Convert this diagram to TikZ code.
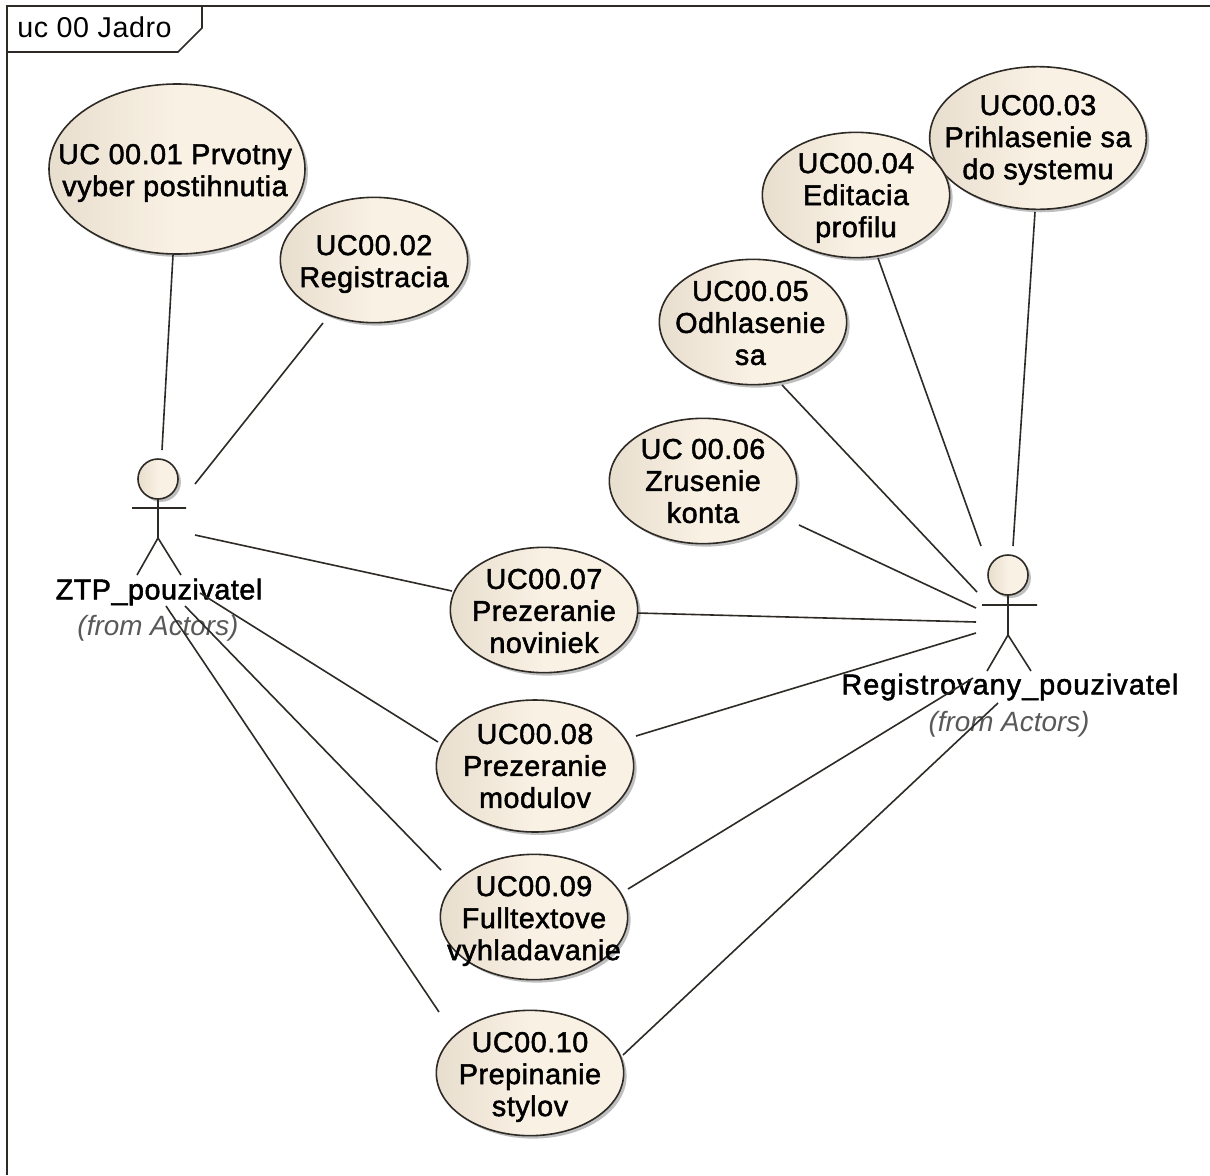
\documentclass[tikz,border=0pt]{standalone}
\usepackage{fontspec}
\setmainfont{Liberation Sans}
\newfontfamily\ucfont[FakeBold=1.8,LetterSpace=2]{Liberation Sans}
\newfontfamily\widefont[FakeBold=1.8,LetterSpace=3.9]{Liberation Sans}
\newfontfamily\plainfont[LetterSpace=2]{Liberation Sans}
\usetikzlibrary{shapes.geometric,shadows}
\definecolor{ucedge}{HTML}{2E2A26}
\definecolor{ucleft}{HTML}{E8DECE}
\definecolor{ucmid}{HTML}{F9F1E4}
\tikzset{
  x=0.75pt,y=-0.75pt,
  usecase/.style={ellipse,draw=ucedge,line width=1.2pt,inner sep=0pt,outer sep=0pt,
    left color=ucleft,right color=ucmid,middle color=ucmid,
    drop shadow={shadow xshift=2.2pt,shadow yshift=-2.2pt,fill=black!45,opacity=.55}},
  small/.style={usecase,minimum width=140.5pt,minimum height=94pt},
  uctext/.style={align=center,inner sep=0pt,yshift=-1.5pt,font=\ucfont\fontsize{21.5}{24}\selectfont,text=black},
  assoc/.style={draw=ucedge,line width=1.2pt},
  limb/.style={draw=ucedge,line width=1.2pt},
  head/.style={circle,draw=ucedge,line width=1.2pt,inner sep=0pt,outer sep=0pt,minimum size=30pt,
    left color=ucleft,right color=ucmid,middle color=ucmid,
    drop shadow={shadow xshift=2.2pt,shadow yshift=-2.2pt,fill=black!45,opacity=.55}},
  actorname/.style={font=\ucfont\fontsize{21.5}{24}\selectfont,inner sep=0pt,text=black},
  widename/.style={font=\widefont\fontsize{21.5}{24}\selectfont,inner sep=0pt,text=black},
  fromlabel/.style={font=\itshape\fontsize{20.9}{24}\selectfont,inner sep=0pt,text=black!65},
  frameline/.style={draw=ucedge,line width=1.2pt},
  framelabel/.style={font=\plainfont\fontsize{21.5}{24}\selectfont,inner sep=0pt,text=black,anchor=base west},
}
\begin{document}
\begin{tikzpicture}
\useasboundingbox[fill=white] (0,0) rectangle (1210,1175);
% frame
\draw[frameline] (7,1175) -- (7,6) -- (1210,6);
\draw[frameline] (7,52) -- (178,52) -- (202,28) -- (202,6);
\node[framelabel] (title) at (17,37) {uc 00 Jadro};
% use cases
\node[usecase,minimum width=192pt,minimum height=127.5pt] (u01) at (177,169) {};
\node[uctext,yshift=-1.5pt,xshift=-1.5pt] (t01) at (u01) {UC 00.01 Prvotny\\vyber postihnutia};
\node[small] (u02) at (374,260) {};
\node[uctext,yshift=-1.5pt] (t02) at (u02) {UC00.02\\Registracia};
\node[usecase,minimum width=162.5pt,minimum height=107pt] (u03) at (1038,138) {};
\node[uctext] (t03) at (u03) {UC00.03\\Prihlasenie sa\\do systemu};
\node[small] (u04) at (856,195) {};
\node[uctext,yshift=-.75pt] (t04) at (u04) {UC00.04\\Editacia\\profilu};
\node[small] (u05) at (753,322) {};
\node[uctext,yshift=.75pt,xshift=-2pt] (t05) at (u05) {UC00.05\\Odhlasenie\\sa};
\node[small] (u06) at (703,481) {};
\node[uctext,yshift=1.5pt] (t06) at (u06) {UC 00.06\\Zrusenie\\konta};
\node[small] (u07) at (544,610) {};
\node[uctext,yshift=.75pt] (t07) at (u07) {UC00.07\\Prezeranie\\noviniek};
\node[usecase,minimum width=148pt,minimum height=99pt] (u08) at (535,766) {};
\node[uctext,yshift=1.5pt] (t08) at (u08) {UC00.08\\Prezeranie\\modulov};
\node[small] (u09) at (534,917) {};
\node[uctext,yshift=-1.5pt] (t09) at (u09) {UC00.09\\Fulltextove\\vyhladavanie};
\node[small] (u10) at (530,1073) {};
\node[uctext,yshift=-1.5pt] (t10) at (u10) {UC00.10\\Prepinanie\\stylov};
% left actor
\node[head] (lh) at (158,479) {};
\coordinate (lhip) at (158,538);
\coordinate (lal) at (132,508);
\coordinate (lar) at (186,508);
\coordinate (lfl) at (137,575);
\coordinate (lfr) at (181,575);
\draw[limb] (lh.south) -- (lhip) (lal) -- (lar) (lfl) -- (lhip) -- (lfr);
\node[actorname] (ln) at (159,592) {ZTP\_pouzivatel};
\node[fromlabel] (lf) at (158,628) {(from Actors)};
% right actor
\node[head] (rh) at (1008,575) {};
\coordinate (rhip) at (1008,635);
\coordinate (ral) at (982,605);
\coordinate (rar) at (1037,605);
\coordinate (rfl) at (987,671);
\coordinate (rfr) at (1031,671);
\draw[limb] (rh.south) -- (rhip) (ral) -- (rar) (rfl) -- (rhip) -- (rfr);
\node[widename] (rn) at (1010,687) {Registrovany\_pouzivatel};
\node[fromlabel] (rf) at (1009,724) {(from Actors)};
% free ends near the actors
\coordinate (a01) at (162,450);
\coordinate (a02) at (195,484);
\coordinate (a07) at (195,535);
\coordinate (a08) at (200,593);
\coordinate (a09) at (185,606);
\coordinate (a10) at (166,606);
\coordinate (b03) at (1013,546);
\coordinate (b04) at (981,546);
\coordinate (b05) at (977,592);
\coordinate (b06) at (976,608);
\coordinate (b07) at (976,622);
\coordinate (b08) at (976,633);
\coordinate (b09) at (973,678);
\coordinate (b10) at (998,703);
% associations
\draw[assoc] ([shift={(-4,86)}]u01.center) -- (a01);
\draw[assoc] ([shift={(-51,63)}]u02.center) -- (a02);
\draw[assoc] ([shift={(-92,-19)}]u07.center) -- (a07);
\draw[assoc] ([shift={(-97,-24)}]u08.center) -- (a08);
\draw[assoc] ([shift={(-93,-47)}]u09.center) -- (a09);
\draw[assoc] ([shift={(-91,-61)}]u10.center) -- (a10);
\draw[assoc] ([shift={(-3,74)}]u03.center) -- (b03);
\draw[assoc] ([shift={(22,63)}]u04.center) -- (b04);
\draw[assoc] ([shift={(29,63)}]u05.center) -- (b05);
\draw[assoc] ([shift={(96,44)}]u06.center) -- (b06);
\draw[assoc] ([shift={(93,3)}]u07.center) -- (b07);
\draw[assoc] ([shift={(101,-30)}]u08.center) -- (b08);
\draw[assoc] ([shift={(94,-28)}]u09.center) -- (b09);
\draw[assoc] ([shift={(93,-18)}]u10.center) -- (b10);
\end{tikzpicture}
\end{document}
